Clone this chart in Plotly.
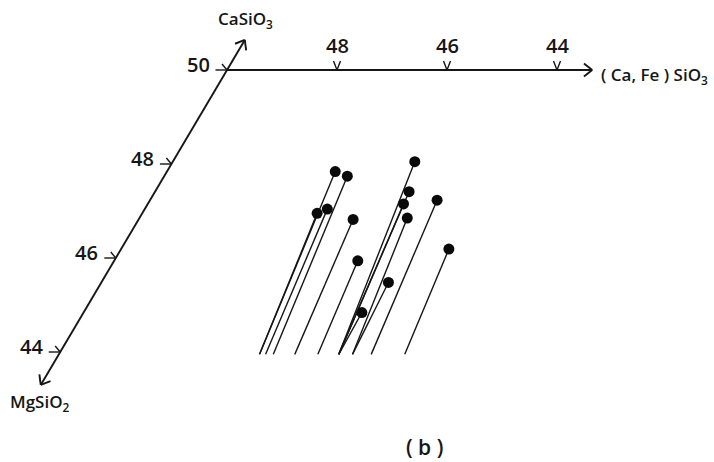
import math
import plotly.graph_objects as go

# ---- data ----
# oblique scales: a = (Ca,Fe)SiO3 value (horizontal), b = CaSiO3 / MgSiO2 value (diagonal)
horiz_ticks = [48, 46, 44]
diag_ticks = [50, 48, 46, 44]
horiz_title = "( Ca, Fe ) SiO<sub>3</sub>"
diag_top_title = "CaSiO<sub>3</sub>"
diag_bottom_title = "MgSiO<sub>2</sub>"
panel_label = "( b )"

pt_a = [46.94, 46.67, 46.82, 46.68, 46.10, 45.60, 45.38, 45.35, 45.13, 44.78, 45.57, 44.78, 44.94, 44.04]
pt_b = [47.84, 47.74, 46.95, 47.04, 46.82, 48.05, 47.41, 47.15, 46.85, 47.23, 45.94, 45.48, 44.84, 46.19]
foot_a = [46.35, 46.10, 46.35, 46.24, 45.71, 44.91, 44.91, 44.91, 44.66, 44.32, 45.29, 44.66, 44.91, 43.71]
foot_b = 43.95

axis_origin = 50.0
horiz_end = 43.36
diag_top_end = 50.64
diag_bottom_end = 43.30

# ---- oblique projection onto the plotting plane ----
UA = 55.0              # plane units per unit of a
UBX, UBY = 27.8, 47.0  # plane units per unit of b


def proj(a, b):
    return (UA * (50 - a) - UBX * (50 - b), UBY * (50 - b))


W, H = 714, 462
OX, OY = 227, 70

fig = go.Figure()

ink = "#161616"

# axes lines
hx0, hy0 = proj(axis_origin, axis_origin)
hx1, hy1 = proj(horiz_end, axis_origin)
dx0, dy0 = proj(axis_origin, diag_top_end)
dx1, dy1 = proj(axis_origin, diag_bottom_end)

ax_x, ax_y = [], []
ax_x += [hx0, hx1, None, dx0, dx1, None]
ax_y += [hy0, hy1, None, dy0, dy1, None]


def arrow_arms(tip, frm, length=10.5, ang=38):
    tx, ty = tip
    fx, fy = frm
    d = math.hypot(tx - fx, ty - fy)
    ux, uy = (fx - tx) / d, (fy - ty) / d
    xs, ys = [], []
    for s in (-1, 1):
        r = math.radians(ang * s)
        rx = ux * math.cos(r) - uy * math.sin(r)
        ry = ux * math.sin(r) + uy * math.cos(r)
        xs += [tx + rx * length, tx, None]
        ys += [ty + ry * length, ty, None]
    return xs, ys


for tip, frm in [((hx1, hy1), (hx0, hy0)), ((dx0, dy0), (dx1, dy1)), ((dx1, dy1), (dx0, dy0))]:
    xs, ys = arrow_arms(tip, frm)
    ax_x += xs
    ax_y += ys

fig.add_trace(go.Scatter(x=ax_x, y=ax_y, mode="lines",
                         line=dict(color=ink, width=1.9), hoverinfo="skip"))

# tick marks
tk_x, tk_y = [], []
for t in horiz_ticks:
    px, py = proj(t, axis_origin)
    tk_x += [px - 3.5, px, px + 3.5, None]
    tk_y += [py - 9, py, py - 9, None]
for t in diag_ticks:
    px, py = proj(axis_origin, t)
    tk_x += [px - 11.5, px, None, px - 5, px, None]
    tk_y += [py, py, None, py - 6, py, None]
fig.add_trace(go.Scatter(x=tk_x, y=tk_y, mode="lines",
                         line=dict(color=ink, width=1.4), hoverinfo="skip"))

# stems
st_x, st_y = [], []
for a, b, fa in zip(pt_a, pt_b, foot_a):
    x0, y0 = proj(a, b)
    x1, y1 = proj(fa, foot_b)
    st_x += [x0, x1, None]
    st_y += [y0, y1, None]
fig.add_trace(go.Scatter(x=st_x, y=st_y, mode="lines",
                         line=dict(color=ink, width=1.4), hoverinfo="skip"))

# points
pxs, pys = zip(*[proj(a, b) for a, b in zip(pt_a, pt_b)])
fig.add_trace(go.Scatter(x=list(pxs), y=list(pys), mode="markers",
                         marker=dict(color="#0a0a0a", size=11, line=dict(width=0)),
                         hoverinfo="skip"))

FONT = "Open Sans, DejaVu Sans, sans-serif"
ann = []
for t in horiz_ticks:
    px, py = proj(t, axis_origin)
    ann.append(dict(x=px, y=py - 25, text=str(t), font=dict(size=20)))
for t in diag_ticks:
    px, py = proj(axis_origin, t)
    ann.append(dict(x=px - 29, y=py - 6, text=str(t), font=dict(size=20)))
ann.append(dict(x=dx0 + 1, y=dy0 - 20, text=diag_top_title, font=dict(size=17)))
ann.append(dict(x=hx1 + 7, y=hy1 + 5, text=horiz_title, font=dict(size=17), xanchor="left"))
ann.append(dict(x=dx1 - 1, y=dy1 + 18, text=diag_bottom_title, font=dict(size=17)))
for a_ in ann:
    a_.update(xref="x", yref="y", showarrow=False, yanchor="middle")
    a_.setdefault("xanchor", "center")
    a_["font"].update(family=FONT, color=ink, weight=600)
ann.append(dict(xref="paper", yref="paper", x=424 / W, y=1 - 447 / H, text=panel_label,
                xanchor="center", yanchor="middle",
                showarrow=False, font=dict(family=FONT, size=21, color=ink, weight=600)))

fig.update_layout(
    width=W, height=H,
    margin=dict(l=0, r=0, t=0, b=0),
    paper_bgcolor="white", plot_bgcolor="white",
    showlegend=False, hovermode=False,
    xaxis=dict(range=[-OX, W - OX], visible=False, fixedrange=True),
    yaxis=dict(range=[H - OY, -OY], visible=False, fixedrange=True),
    annotations=ann,
)

fig.write_html("out.html", config={"displayModeBar": False},
               post_script="document.body.style.margin='0';document.body.style.overflow='hidden';")
